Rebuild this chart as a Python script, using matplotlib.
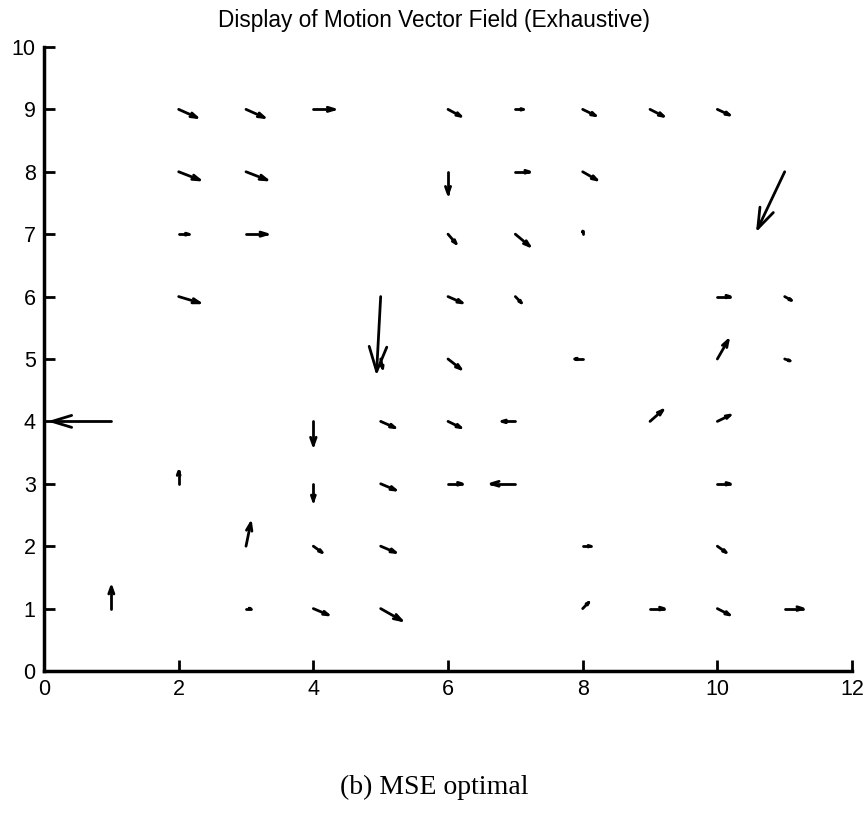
import numpy as np
import matplotlib
matplotlib.use('Agg')
import matplotlib.pyplot as plt

# motion vectors: start point (x, y) and displacement (u, v)
x = [2, 3, 4, 6, 7, 8, 9, 10,
     2, 3, 6, 7, 8, 11,
     2, 3, 6, 7, 8,
     2, 5, 6, 7, 10, 11,
     5, 6, 8, 10, 11,
     1, 4, 5, 6, 7, 9, 10,
     2, 4, 5, 6, 7, 10,
     3, 4, 5, 8, 10,
     1, 3, 4, 5, 8, 9, 10, 11]
y = [9, 9, 9, 9, 9, 9, 9, 9,
     8, 8, 8, 8, 8, 8,
     7, 7, 7, 7, 7,
     6, 6, 6, 6, 6, 6,
     5, 5, 5, 5, 5,
     4, 4, 4, 4, 4, 4, 4,
     3, 3, 3, 3, 3, 3,
     2, 2, 2, 2, 2,
     1, 1, 1, 1, 1, 1, 1, 1]
u = [0.27, 0.27, 0.31, 0.19, 0.12, 0.19, 0.20, 0.18,
     0.31, 0.31, 0.00, 0.21, 0.21, -0.40,
     0.15, 0.31, 0.12, 0.21, 0.00,
     0.31, -0.06, 0.21, 0.09, 0.19, 0.10,
     0.03, 0.19, -0.12, 0.16, 0.08,
     -0.88, 0.00, 0.21, 0.19, -0.20, 0.19, 0.19,
     0.00, 0.00, 0.22, 0.21, -0.36, 0.19,
     0.07, 0.13, 0.22, 0.12, 0.13,
     0.00, 0.07, 0.22, 0.31, 0.09, 0.21, 0.18, 0.27]
v = [-0.13, -0.13, 0.00, -0.11, 0.00, -0.10, -0.11, -0.09,
     -0.13, -0.13, -0.35, 0.00, -0.13, -0.91,
     0.00, 0.00, -0.15, -0.19, 0.05,
     -0.10, -1.20, -0.10, -0.10, 0.00, -0.06,
     -0.15, -0.16, 0.00, 0.30, -0.03,
     0.00, -0.38, -0.10, -0.10, 0.00, 0.18, 0.10,
     0.20, -0.27, -0.10, 0.00, 0.00, 0.00,
     0.37, -0.10, -0.10, 0.00, -0.10,
     0.35, 0.00, -0.10, -0.19, 0.10, 0.00, -0.10, 0.00]

title = 'Display of Motion Vector Field (Exhaustive)'
caption = '(b) MSE optimal'

x = np.array(x, float); y = np.array(y, float)
u = np.array(u, float); v = np.array(v, float)

fig = plt.figure(figsize=(8.68, 8.21), dpi=100)
ax = fig.add_axes([0.0507, 0.1827, 0.9309, 0.7601])

# matlab-like quiver: shaft plus two head lines (alpha, beta = 0.33)
alpha, beta = 0.33, 0.33
tx, ty = x + u, y + v
for i in range(len(x)):
    ax.plot([x[i], tx[i]], [y[i], ty[i]], color='black', lw=2.0,
            solid_capstyle='round')
    hx = [tx[i] - alpha * (u[i] + beta * v[i]), tx[i],
          tx[i] - alpha * (u[i] - beta * v[i])]
    hy = [ty[i] - alpha * (v[i] - beta * u[i]), ty[i],
          ty[i] - alpha * (v[i] + beta * u[i])]
    ax.plot(hx, hy, color='black', lw=2.0, solid_capstyle='round',
            solid_joinstyle='round')

ax.set_xlim(0, 12)
ax.set_ylim(0, 10)
ax.set_xticks(range(0, 13, 2))
ax.set_yticks(range(0, 11))
ax.spines['top'].set_visible(False)
ax.spines['right'].set_visible(False)
for s in ['left', 'bottom']:
    ax.spines[s].set_linewidth(2.5)
ax.tick_params(direction='in', length=8, width=2, labelsize=15.5, pad=6)
for lab in ax.get_xticklabels() + ax.get_yticklabels():
    lab.set_family('Liberation Sans')

fig.text(0.5, 0.9745, title, ha='center', va='center', fontsize=16.3,
         family='Liberation Sans')
fig.text(0.5, 0.041, caption, ha='center', va='center', fontsize=20,
         family='Liberation Serif')

fig.savefig('out.png', dpi=100)
